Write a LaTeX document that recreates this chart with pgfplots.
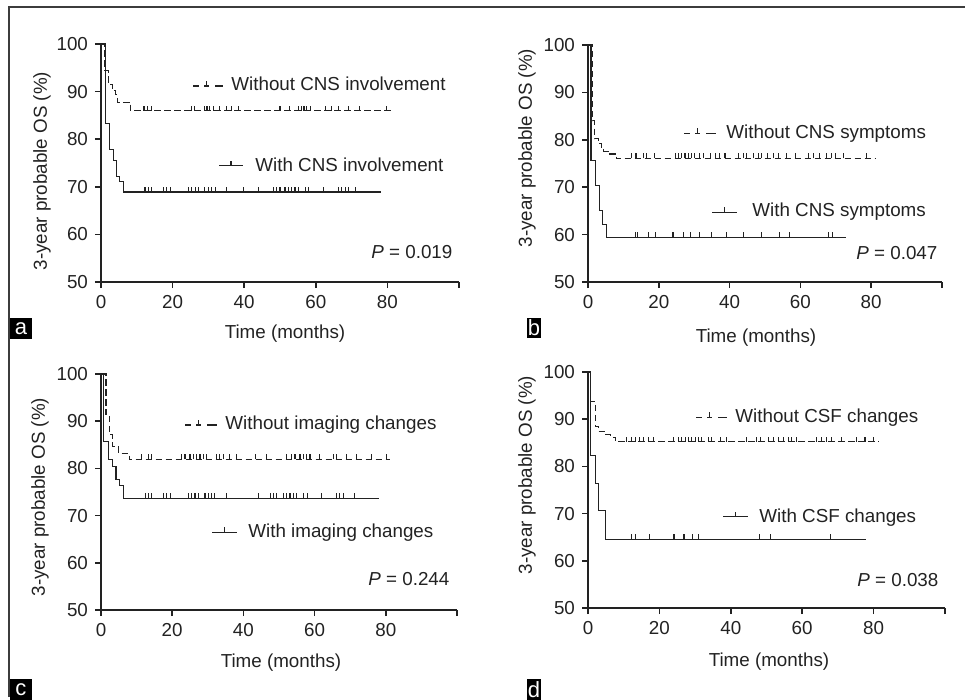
\documentclass[border=0pt]{standalone}
\usepackage{fontspec}
\setmainfont{Liberation Sans}
\usepackage{pgfplots}
\pgfplotsset{compat=1.18}
\definecolor{ink}{HTML}{222222}
\definecolor{framec}{HTML}{3C3C3C}

% censoring tick: short stroke pointing up from the curve
\pgfdeclareplotmark{cens}{%
  \pgfpathmoveto{\pgfpointorigin}%
  \pgfpathlineto{\pgfpoint{0pt}{\pgfplotmarksize}}%
  \pgfusepathqstroke}

\newcommand\lab{\fontsize{9.4}{11}\selectfont}

\pgfplotsset{
  km/.style={scale only axis, anchor=south west, clip=false,
    axis lines*=left, enlargelimits=false,
    xmin=0, xmax=100, ymin=50, ymax=100,
    xtick={0,20,...,100}, xticklabels={0,20,40,60,80,{}},
    ytick={50,60,...,100},
    tick align=outside, major tick length=3pt,
    axis line style={line width=0.8pt, ink},
    every tick/.style={line width=0.8pt, ink},
    tick label style={font=\lab, text=ink},
    /pgf/number format/assume math mode=true},
  surv/.style={const plot, ink, line width=0.55pt, mark=none},
  survd/.style={surv, dash pattern=on 3.3pt off 1.7pt},
  censor/.style={only marks, mark=cens, mark size=2.5pt,
    mark options={solid, ink, line width=0.55pt}},
}

\begin{document}
\begin{tikzpicture}
\begin{scope}[x=0.5pt, y=-0.5pt]
  \useasboundingbox (0,0) rectangle (965,697);
  \draw[framec, line width=1pt] (9,697) -- (9,7) -- (965,7);
\end{scope}

% ---------- a ----------
\begin{axis}[km, at={(50.5pt,-141pt)}, width=179pt, height=119pt]
\addplot[survd] coordinates {(0,100) (1.1,94.5) (2.1,91.4) (3.3,90.2) (4.0,89.3) (4.5,87.8) (8.2,86.0) (81.2,86.0)};
\addplot[surv] coordinates {(0,100) (1.3,83.3) (2.3,77.8) (3.4,75.5) (4.4,72.2) (5.1,71.1) (6.2,68.9) (78.1,68.9)};
\addplot[censor] coordinates {(12,86) (13,86) (14,86) (25.3,86) (26.1,86) (29,86) (29.6,86) (30.2,86) (31.4,86) (33.2,86) (35.1,86) (36.5,86) (38.3,86) (50,86) (52.6,86) (55.1,86) (56,86) (56.7,86) (57.3,86) (58.4,86) (62.6,86) (64.4,86) (66.3,86) (69.1,86) (72.1,86) (79.8,86)};
\addplot[censor] coordinates {(12.3,68.9) (13.2,68.9) (14.2,68.9) (17.4,68.9) (18.3,68.9) (19.3,68.9) (24.4,68.9) (25.3,68.9) (26.3,68.9) (27.2,68.9) (29,68.9) (30,68.9) (30.9,68.9) (32.1,68.9) (35.1,68.9) (39.7,68.9) (43.9,68.9) (48.1,68.9) (49.1,68.9) (50,68.9) (51.4,68.9) (52.3,68.9) (53.3,68.9) (54.2,68.9) (55.1,68.9) (57,68.9) (57.9,68.9) (62.1,68.9) (66.3,68.9) (67.2,68.9) (68.2,68.9) (69.1,68.9) (71.2,68.9)};
\end{axis}

% ---------- b ----------
\begin{axis}[km, at={(294pt,-141pt)}, width=177pt, height=118.5pt]
\addplot[survd] coordinates {(0,100) (1.2,84) (1.8,80.2) (3.0,79.2) (3.7,78.4) (4.5,77.6) (5.7,77.0) (8,76.1) (81.1,76.1)};
\addplot[surv] coordinates {(0,100) (0.85,75.7) (2,70.3) (3.2,65) (4.1,62.2) (5.1,59.4) (73,59.4)};
\addplot[censor] coordinates {(12.3,76.1) (13.3,76.1) (13.7,76.1) (15.6,76.1) (16.6,76.1) (18.9,76.1) (24.6,76.1) (25.5,76.1) (26.5,76.1) (27.4,76.1) (28.3,76.1) (29.3,76.1) (30.2,76.1) (31.6,76.1) (32.6,76.1) (34.5,76.1) (35.9,76.1) (37.1,76.1) (38.7,76.1) (42.5,76.1) (43.9,76.1) (44.8,76.1) (46.7,76.1) (48.1,76.1) (49.1,76.1) (50.6,76.1) (52.3,76.1) (53.8,76.1) (56.1,76.1) (58.5,76.1) (62.2,76.1) (63.6,76.1) (65.5,76.1) (67.4,76.1) (68.8,76.1) (69.8,76.1) (72.1,76.1) (78.7,76.1)};
\addplot[censor] coordinates {(13.3,59.4) (14,59.4) (17,59.4) (19,59.4) (24,59.4) (27,59.4) (29,59.4) (31.6,59.4) (35,59.4) (39,59.4) (44,59.4) (49,59.4) (54,59.4) (57,59.4) (68,59.4) (69,59.4)};
\end{axis}

% ---------- c ----------
\begin{axis}[km, at={(50.5pt,-305pt)}, width=178pt, height=118pt]
\addplot[survd] coordinates {(0,100) (1.4,91.5) (2.3,87.1) (3.3,84.6) (4.9,83.2) (8,81.9) (81.2,81.9)};
\addplot[surv] coordinates {(0,100) (0.7,85.7) (2,81.8) (3.3,80.4) (4.2,77.7) (5.1,76.4) (6.3,73.7) (78.1,73.7)};
\addplot[censor] coordinates {(11.4,81.9) (13.3,81.9) (14.2,81.9) (22.7,81.9) (23.6,81.9) (25,81.9) (25.9,81.9) (26.9,81.9) (27.8,81.9) (28.7,81.9) (29.7,81.9) (32.5,81.9) (33.4,81.9) (34.4,81.9) (36.2,81.9) (38.1,81.9) (43.3,81.9) (46.5,81.9) (52.2,81.9) (53.6,81.9) (54.5,81.9) (55.9,81.9) (56.8,81.9) (57.8,81.9) (58.7,81.9) (61.5,81.9) (65.3,81.9) (66.2,81.9) (69,81.9) (71.8,81.9) (76,81.9) (80.3,81.9)};
\addplot[censor] coordinates {(12.4,73.7) (13.3,73.7) (14.2,73.7) (17.5,73.7) (18.5,73.7) (19.4,73.7) (24.5,73.7) (25.5,73.7) (26.4,73.7) (27.3,73.7) (29.2,73.7) (30.1,73.7) (31.1,73.7) (32,73.7) (35.3,73.7) (44.2,73.7) (47.5,73.7) (48.4,73.7) (49.4,73.7) (51.2,73.7) (52.2,73.7) (53.1,73.7) (54,73.7) (55,73.7) (56.8,73.7) (58,73.7) (62,73.7) (66.2,73.7) (67.1,73.7) (68.1,73.7) (71.1,73.7)};
\end{axis}

% ---------- d ----------
\begin{axis}[km, at={(294pt,-304pt)}, width=178.5pt, height=118pt]
\addplot[survd] coordinates {(0,100) (0.8,93.7) (2,88.4) (2.9,87.4) (5,86.7) (6.2,86.2) (7.8,85.2) (81.3,85.2)};
\addplot[surv] coordinates {(0,100) (0.8,82.4) (2,76.4) (2.9,70.6) (5,64.6) (78,64.6)};
\addplot[censor] coordinates {(10.8,85.2) (12.2,85.2) (13.2,85.2) (14.4,85.2) (15.5,85.2) (16.9,85.2) (18.3,85.2) (23.9,85.2) (25.3,85.2) (26.2,85.2) (27.2,85.2) (28.1,85.2) (29,85.2) (30,85.2) (30.9,85.2) (31.8,85.2) (33.7,85.2) (34.6,85.2) (37,85.2) (38.7,85.2) (44.4,85.2) (47.3,85.2) (48.2,85.2) (50.5,85.2) (51.9,85.2) (53.3,85.2) (54.7,85.2) (56.1,85.2) (57.1,85.2) (58.5,85.2) (64.1,85.2) (65.5,85.2) (66.9,85.2) (68.3,85.2) (71.1,85.2) (75.3,85.2) (77.6,85.2) (79.9,85.2)};
\addplot[censor] coordinates {(12.2,64.6) (13.2,64.6) (17.2,64.6) (24.1,64.6) (26.9,64.6) (29.2,64.6) (30.9,64.6) (48,64.6) (51,64.6) (68,64.6)};
\end{axis}

\begin{scope}[x=0.5pt, y=-0.5pt, every node/.style={font=\lab, text=ink, inner sep=0pt}]
  % axis titles
  \node[rotate=90] at (42,171) {3-year probable OS (\%)};
  \node[rotate=90] at (527,148) {3-year probable OS (\%)};
  \node[rotate=90] at (40,497) {3-year probable OS (\%)};
  \node[rotate=90] at (527,475) {3-year probable OS (\%)};
  \node at (285,334) {Time (months)};
  \node at (756,338) {Time (months)};
  \node at (281,663) {Time (months)};
  \node at (769,662) {Time (months)};
  % key entries
  \begin{scope}[ink, line width=0.55pt]
    \draw (193,86) -- (198.7,86) (204,86) -- (209.3,86) (215,86) -- (222.7,86) (206.7,86) -- (206.7,81);
    \draw (219,165.7) -- (243,165.7) (231,165.7) -- (231,160.7);
    \draw (684,133.3) -- (689.7,133.3) (695,133.3) -- (700.3,133.3) (706,133.3) -- (716,133.3) (697.7,133.3) -- (697.7,128.3);
    \draw (712,212.3) -- (737,212.3) (724.5,212.3) -- (724.5,207.3);
    \draw (185,425) -- (190.7,425) (196,425) -- (201.3,425) (207,425) -- (217,425) (198.7,425) -- (198.7,420);
    \draw (212,532.3) -- (237,532.3) (224.5,532.3) -- (224.5,527.3);
    \draw (696,417.3) -- (701.7,417.3) (707,417.3) -- (712.3,417.3) (718,417.3) -- (727,417.3) (709.7,417.3) -- (709.7,412.3);
    \draw (723,516.7) -- (748,516.7) (735.5,516.7) -- (735.5,511.7);
  \end{scope}
  \node[anchor=base west] at (231,90.7) {Without CNS involvement};
  \node[anchor=base west] at (255,171.7) {With CNS involvement};
  \node[anchor=base west] at (371,258.3) {\textit{P} = 0.019};
  \node[anchor=base west] at (726,138.3) {Without CNS symptoms};
  \node[anchor=base west] at (752,216.7) {With CNS symptoms};
  \node[anchor=base west] at (856,259.3) {\textit{P} = 0.047};
  \node[anchor=base west] at (225,429.3) {Without imaging changes};
  \node[anchor=base west] at (248,537.3) {With imaging changes};
  \node[anchor=base west] at (368,585.7) {\textit{P} = 0.244};
  \node[anchor=base west] at (735,422.3) {Without CSF changes};
  \node[anchor=base west] at (759,522.3) {With CSF changes};
  \node[anchor=base west] at (857,586.7) {\textit{P} = 0.038};
  % panel letters
  \fill[black] (10,318) rectangle (32,339);
  \node[text=white, font=\fontsize{11}{12}\selectfont] at (21,328.5) {a};
  \fill[black] (527,318) rectangle (541,338);
  \node[text=white, font=\fontsize{11}{12}\selectfont] at (534,328) {b};
  \fill[black] (10,679) rectangle (32,700);
  \node[text=white, font=\fontsize{11}{12}\selectfont] at (21,690) {c};
  \fill[black] (527,679) rectangle (541,700);
  \node[text=white, font=\fontsize{11}{12}\selectfont] at (534,690) {d};
\end{scope}
\end{tikzpicture}
\end{document}
